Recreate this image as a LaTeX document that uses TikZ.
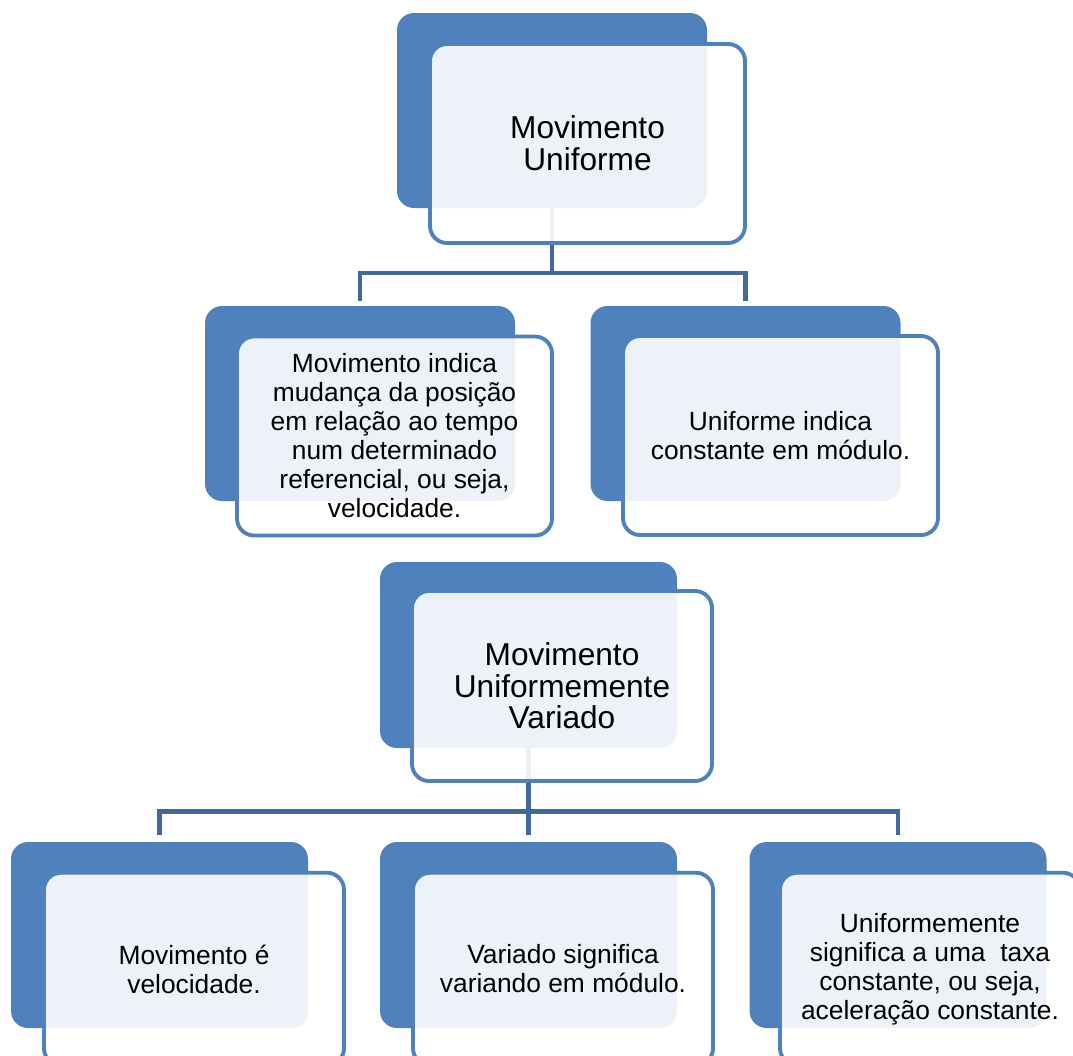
\documentclass[tikz,border=0pt]{standalone}
\usepackage{fontspec}
\setmainfont{Liberation Sans}
\usepackage{xcolor}
\usepackage{tikz}
\usetikzlibrary{calc}
\definecolor{boxblue}{HTML}{4F81BD}
\definecolor{linkblue}{HTML}{41699B}
\tikzset{
  back/.style={rectangle, rounded corners=0.34cm, fill=boxblue, inner sep=0pt},
  front/.style={rectangle, rounded corners=0.34cm, draw=boxblue, line width=2.2pt,
    fill=white, fill opacity=0.9, text opacity=1, align=center, inner sep=0pt},
  big/.style={minimum width=6.2cm, minimum height=3.9cm},
  bigf/.style={minimum width=6.3cm, minimum height=3.98cm},
  small/.style={minimum width=5.94cm, minimum height=3.72cm},
  smallf/.style={minimum width=6.0cm, minimum height=3.85cm},
  title/.style={font=\fontsize{18}{18}\selectfont},
  body/.style={font=\fontsize{15}{16.5}\selectfont},
  link/.style={draw=linkblue, line width=2.8pt}
}

\begin{document}
\begin{tikzpicture}
  \useasboundingbox (0,0) rectangle (21.46,-21.10);

  % dark back plates
  \node[back,big] (mu-back) at (11.04,-2.21) {};
  \node[back,big] (mov-back) at (7.20,-8.07) {};
  \node[back,big] (uni-back) at (14.91,-8.07) {};
  \node[back,small] (muv-back) at (10.57,-13.10) {};
  \node[back,small] (vel-back) at (3.19,-18.70) {};
  \node[back,small] (var-back) at (10.57,-18.70) {};
  \node[back,small] (acc-back) at (17.96,-18.70) {};

  % connectors
  \coordinate (busA) at (0,-5.46);
  \coordinate (busB) at (0,-16.23);
  \draw[link] (mu-back.south) -- (mu-back.south |- busA);
  \draw[link] ([yshift=0.1cm]mov-back.north) |- (mu-back.south |- busA)
    -| ([yshift=0.1cm]uni-back.north);
  \draw[link] (muv-back.south) -- ([yshift=-0.47cm]var-back.north |- busB);
  \draw[link] ([yshift=0.14cm]vel-back.north) |- (busB -| acc-back.north)
    -- ([yshift=0.14cm]acc-back.north);

  % light front boxes
  \node[front,bigf,title] (mu) at ($(mu-back)+(0.71,-0.66)$) {Movimento\\Uniforme};
  \node[front,bigf,body] (mov) at ($(mov-back)+(0.69,-0.65)$)
    {Movimento indica\\mudança da posição\\em relação ao tempo\\num determinado\\referencial, ou seja,\\velocidade.};
  \node[front,bigf,body] (uni) at ($(uni-back)+(0.70,-0.64)$)
    {Uniforme indica\\constante em módulo.};
  \node[front,smallf,title,minimum height=3.8cm] (muv) at ($(muv-back)+(0.67,-0.62)$)
    {Movimento\\Uniformemente\\Variado};
  \node[front,smallf,body] (vel) at ($(vel-back)+(0.69,-0.68)$)
    {Movimento é\\velocidade.};
  \node[front,smallf,body] (var) at ($(var-back)+(0.69,-0.68)$)
    {Variado significa\\variando em módulo.};
  \node[front,smallf,body] (acc) at ($(acc-back)+(0.64,-0.68)$)
    {Uniformemente\\significa a uma\ \ taxa\\constante, ou seja,\\aceleração constante.};
\end{tikzpicture}
\end{document}
